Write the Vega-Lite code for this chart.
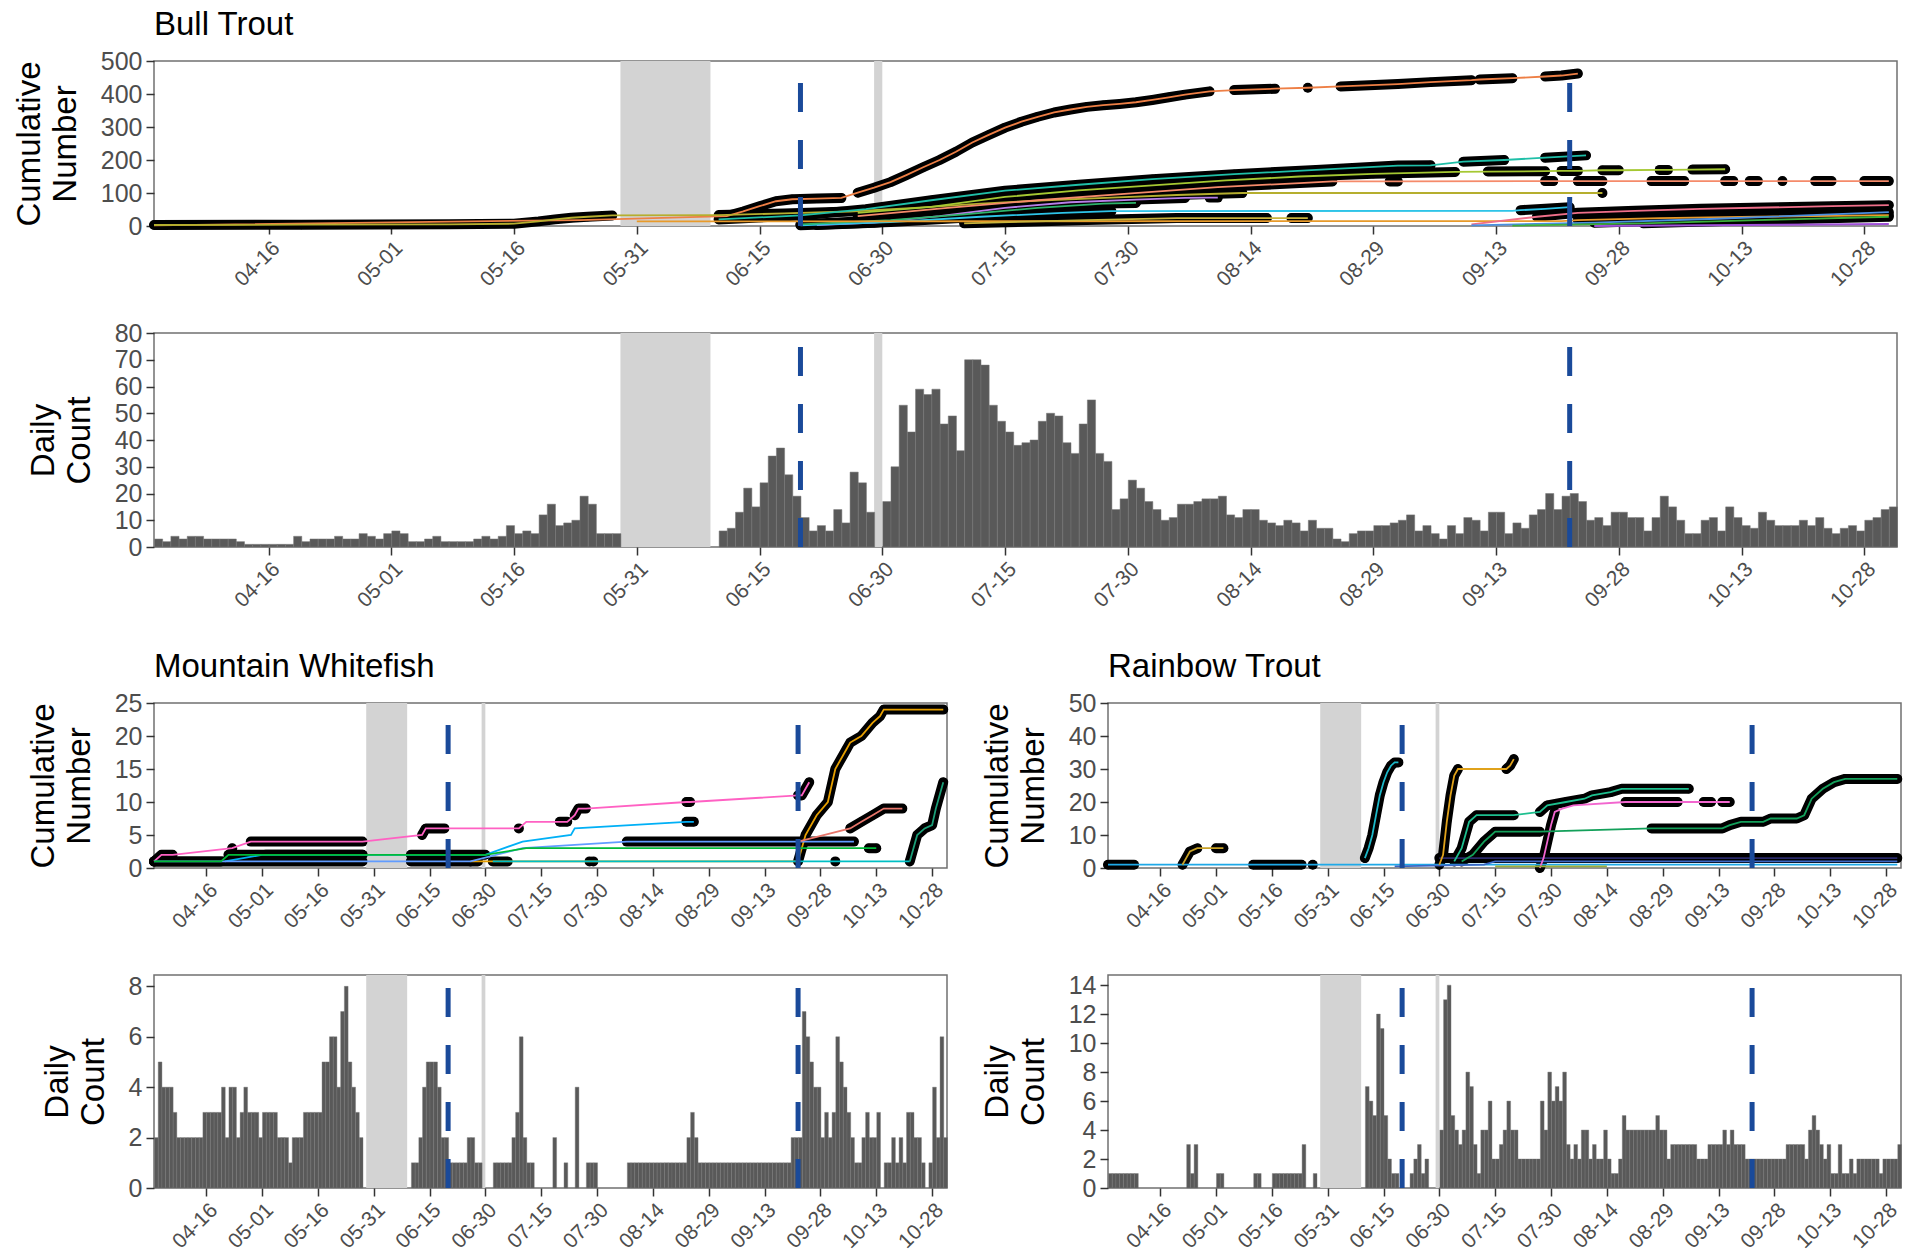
{
"$schema":"https://vega.github.io/schema/vega-lite/v6.json",
"padding":{"left":12,"top":8,"right":8,"bottom":3},
"background":"white",
"datasets":{
"gray":[{"a":"2023-05-29","b":"2023-06-09"},{"a":"2023-06-29","b":"2023-06-30"}],
"blue":[{"d":"2023-06-20"},{"d":"2023-09-22"}],
"daily":[
{"d":"2023-04-02","b":3,"m":2,"r":1},{"d":"2023-04-03","b":2,"m":5,"r":1},{"d":"2023-04-04","b":4,"m":4,"r":1},{"d":"2023-04-05","b":3,"m":4,"r":1},{"d":"2023-04-06","b":4,"m":4,"r":1},{"d":"2023-04-07","b":4,"m":3,"r":1},{"d":"2023-04-08","b":3,"m":2,"r":1},{"d":"2023-04-09","b":3,"m":2,"r":1},{"d":"2023-04-10","b":3,"m":2},{"d":"2023-04-11","b":3,"m":2},{"d":"2023-04-12","b":2,"m":2},{"d":"2023-04-13","b":1,"m":2},{"d":"2023-04-14","b":1,"m":2},{"d":"2023-04-15","b":1,"m":3},{"d":"2023-04-16","b":1,"m":3},{"d":"2023-04-17","b":1,"m":3},{"d":"2023-04-18","b":1,"m":3},{"d":"2023-04-19","b":4,"m":3},{"d":"2023-04-20","b":2,"m":4},{"d":"2023-04-21","b":3,"m":2},{"d":"2023-04-22","b":3,"m":4},{"d":"2023-04-23","b":3,"m":4,"r":3},{"d":"2023-04-24","b":4,"m":2,"r":1},{"d":"2023-04-25","b":3,"m":3,"r":3},{"d":"2023-04-26","b":3,"m":4},{"d":"2023-04-27","b":5,"m":3},{"d":"2023-04-28","b":4,"m":3},{"d":"2023-04-29","b":3,"m":3},{"d":"2023-04-30","b":5,"m":2},
{"d":"2023-05-01","b":6,"m":3,"r":1},{"d":"2023-05-02","b":5,"m":3,"r":1},{"d":"2023-05-03","b":2,"m":3},{"d":"2023-05-04","b":2,"m":3},{"d":"2023-05-05","b":3,"m":2},{"d":"2023-05-06","b":4,"m":2},{"d":"2023-05-07","b":2,"m":2},{"d":"2023-05-08","b":2,"m":1},{"d":"2023-05-09","b":2,"m":2},{"d":"2023-05-10","b":2,"m":2},{"d":"2023-05-11","b":3,"m":2,"r":1},{"d":"2023-05-12","b":4,"m":3,"r":1},{"d":"2023-05-13","b":3,"m":3},{"d":"2023-05-14","b":4,"m":3},{"d":"2023-05-15","b":8,"m":3},{"d":"2023-05-16","b":5,"m":3,"r":1},{"d":"2023-05-17","b":6,"m":5,"r":1},{"d":"2023-05-18","b":5,"m":5,"r":1},{"d":"2023-05-19","b":12,"m":6,"r":1},{"d":"2023-05-20","b":16,"m":6,"r":1},{"d":"2023-05-21","b":8,"m":4,"r":1},{"d":"2023-05-22","b":9,"m":7,"r":1},{"d":"2023-05-23","b":10,"m":8,"r":1},{"d":"2023-05-24","b":19,"m":5,"r":3},{"d":"2023-05-25","b":16,"m":4},{"d":"2023-05-26","b":5,"m":3},{"d":"2023-05-27","b":5,"m":2,"r":1},{"d":"2023-05-28","b":5},
{"d":"2023-06-10","b":6,"m":1,"r":7},{"d":"2023-06-11","b":7,"m":1,"r":6},{"d":"2023-06-12","b":13,"m":2,"r":5},{"d":"2023-06-13","b":22,"m":4,"r":12},{"d":"2023-06-14","b":15,"m":5,"r":11},{"d":"2023-06-15","b":24,"m":5,"r":5},{"d":"2023-06-16","b":34,"m":5,"r":2},{"d":"2023-06-17","b":37,"m":4,"r":1},{"d":"2023-06-18","b":27,"m":2,"r":1},{"d":"2023-06-19","b":19,"m":2},{"d":"2023-06-20","b":11,"m":1},{"d":"2023-06-21","b":6,"m":1},{"d":"2023-06-22","b":8,"m":1,"r":1},{"d":"2023-06-23","b":6,"m":1,"r":2},{"d":"2023-06-24","b":14,"m":1,"r":3},{"d":"2023-06-25","b":9,"m":2,"r":1},{"d":"2023-06-26","b":28,"m":2,"r":2},{"d":"2023-06-27","b":24,"m":1},{"d":"2023-06-28","b":13,"m":1},{"d":"2023-06-30","b":17,"r":4},
{"d":"2023-07-01","b":30,"r":13},{"d":"2023-07-02","b":53,"m":1,"r":14},{"d":"2023-07-03","b":43,"m":1,"r":5},{"d":"2023-07-04","b":59,"m":1,"r":4},{"d":"2023-07-05","b":57,"m":1,"r":3},{"d":"2023-07-06","b":59,"m":1,"r":4},{"d":"2023-07-07","b":46,"m":2,"r":8},{"d":"2023-07-08","b":49,"m":3,"r":7},{"d":"2023-07-09","b":36,"m":6,"r":3},{"d":"2023-07-10","b":70,"m":2,"r":1},{"d":"2023-07-11","b":70,"m":1,"r":4},{"d":"2023-07-12","b":68,"m":1,"r":4},{"d":"2023-07-13","b":53,"r":6},{"d":"2023-07-14","b":47,"r":2},{"d":"2023-07-15","b":43,"r":2},{"d":"2023-07-16","b":38,"r":3},{"d":"2023-07-17","b":39,"r":4},{"d":"2023-07-18","b":40,"m":2,"r":6},{"d":"2023-07-19","b":47,"r":4},{"d":"2023-07-20","b":50,"r":4},{"d":"2023-07-21","b":49,"m":1,"r":2},{"d":"2023-07-22","b":39,"r":2},{"d":"2023-07-23","b":35,"r":2},{"d":"2023-07-24","b":46,"m":4,"r":2},{"d":"2023-07-25","b":55,"r":2},{"d":"2023-07-26","b":35,"r":2},{"d":"2023-07-27","b":32,"m":1,"r":6},{"d":"2023-07-28","b":14,"m":1,"r":4},{"d":"2023-07-29","b":18,"m":1,"r":8},{"d":"2023-07-30","b":25,"r":6},{"d":"2023-07-31","b":22,"r":7},
{"d":"2023-08-01","b":17,"r":6},{"d":"2023-08-02","b":14,"r":8},{"d":"2023-08-03","b":10,"r":3},{"d":"2023-08-04","b":11,"r":2},{"d":"2023-08-05","b":16,"r":3},{"d":"2023-08-06","b":16,"r":2},{"d":"2023-08-07","b":17,"m":1,"r":4},{"d":"2023-08-08","b":18,"m":1,"r":4},{"d":"2023-08-09","b":18,"m":1,"r":2},{"d":"2023-08-10","b":19,"m":1,"r":3},{"d":"2023-08-11","b":12,"m":1,"r":2},{"d":"2023-08-12","b":11,"m":1,"r":2},{"d":"2023-08-13","b":14,"m":1,"r":4},{"d":"2023-08-14","b":14,"m":1,"r":2},{"d":"2023-08-15","b":10,"m":1,"r":1},{"d":"2023-08-16","b":9,"m":1,"r":1},{"d":"2023-08-17","b":8,"m":1,"r":2},{"d":"2023-08-18","b":10,"m":1,"r":5},{"d":"2023-08-19","b":9,"m":1,"r":4},{"d":"2023-08-20","b":6,"m":1,"r":4},{"d":"2023-08-21","b":10,"m":1,"r":4},{"d":"2023-08-22","b":7,"m":1,"r":4},{"d":"2023-08-23","b":7,"m":2,"r":4},{"d":"2023-08-24","b":3,"m":3,"r":4},{"d":"2023-08-25","b":2,"m":2,"r":4},{"d":"2023-08-26","b":5,"m":1,"r":4},{"d":"2023-08-27","b":6,"m":1,"r":5},{"d":"2023-08-28","b":6,"m":1,"r":4},{"d":"2023-08-29","b":8,"m":1,"r":4},{"d":"2023-08-30","b":8,"m":1,"r":2},{"d":"2023-08-31","b":9,"m":1,"r":3},
{"d":"2023-09-01","b":10,"m":1,"r":3},{"d":"2023-09-02","b":12,"m":1,"r":3},{"d":"2023-09-03","b":6,"m":1,"r":3},{"d":"2023-09-04","b":8,"m":1,"r":3},{"d":"2023-09-05","b":5,"m":1,"r":3},{"d":"2023-09-06","b":3,"m":1,"r":3},{"d":"2023-09-07","b":8,"m":1,"r":2},{"d":"2023-09-08","b":5,"m":1,"r":2},{"d":"2023-09-09","b":11,"m":1,"r":2},{"d":"2023-09-10","b":10,"m":1,"r":3},{"d":"2023-09-11","b":6,"m":1,"r":3},{"d":"2023-09-12","b":13,"m":1,"r":3},{"d":"2023-09-13","b":13,"m":1,"r":3},{"d":"2023-09-14","b":5,"m":1,"r":4},{"d":"2023-09-15","b":9,"m":1,"r":3},{"d":"2023-09-16","b":7,"m":1,"r":4},{"d":"2023-09-17","b":12,"m":1,"r":3},{"d":"2023-09-18","b":14,"m":1,"r":3},{"d":"2023-09-19","b":20,"m":1,"r":3},{"d":"2023-09-20","b":14,"m":2,"r":2},{"d":"2023-09-21","b":19,"m":2,"r":2},{"d":"2023-09-22","b":20,"m":2,"r":2},{"d":"2023-09-23","b":17,"m":7,"r":2},{"d":"2023-09-24","b":10,"m":6,"r":2},{"d":"2023-09-25","b":11,"m":5,"r":2},{"d":"2023-09-26","b":8,"m":4,"r":2},{"d":"2023-09-27","b":13,"m":4,"r":2},{"d":"2023-09-28","b":13,"m":2,"r":2},{"d":"2023-09-29","b":11,"m":3,"r":2},{"d":"2023-09-30","b":11,"m":2,"r":2},
{"d":"2023-10-01","b":6,"m":3,"r":3},{"d":"2023-10-02","b":11,"m":6,"r":3},{"d":"2023-10-03","b":19,"m":5,"r":3},{"d":"2023-10-04","b":15,"m":4,"r":3},{"d":"2023-10-05","b":10,"m":3,"r":3},{"d":"2023-10-06","b":5,"m":2,"r":2},{"d":"2023-10-07","b":5,"m":1,"r":4},{"d":"2023-10-08","b":10,"m":1,"r":5},{"d":"2023-10-09","b":11,"m":2,"r":4},{"d":"2023-10-10","b":6,"m":3,"r":3},{"d":"2023-10-11","b":15,"m":2,"r":2},{"d":"2023-10-12","b":11,"m":2,"r":3},{"d":"2023-10-13","b":8,"m":3,"r":1},{"d":"2023-10-14","b":7,"r":1},{"d":"2023-10-15","b":13,"m":1,"r":3},{"d":"2023-10-16","b":10,"m":1,"r":1},{"d":"2023-10-17","b":8,"m":2,"r":1},{"d":"2023-10-18","b":8,"m":1,"r":2},{"d":"2023-10-19","b":8,"m":2,"r":1},{"d":"2023-10-20","b":10,"m":1,"r":2},{"d":"2023-10-21","b":8,"m":3,"r":2},{"d":"2023-10-22","b":11,"m":3,"r":2},{"d":"2023-10-23","b":7,"m":2,"r":2},{"d":"2023-10-24","b":5,"m":2,"r":2},{"d":"2023-10-25","b":7,"m":1,"r":2},{"d":"2023-10-26","b":8,"r":1},{"d":"2023-10-27","b":6,"m":1,"r":2},{"d":"2023-10-28","b":10,"m":4,"r":2},{"d":"2023-10-29","b":11,"m":2,"r":2},{"d":"2023-10-30","b":14,"m":6,"r":2},{"d":"2023-10-31","b":15,"m":2,"r":3}
],
"bc":[
{"s":"b1","d":"2023-04-02","y":2},{"s":"b1","d":"2023-05-24","y":18},
{"s":"b1","d":"2023-06-11","y":30,"g":"1a"},{"s":"b1","d":"2023-06-13","y":44,"g":"1a"},{"s":"b1","d":"2023-06-15","y":60,"g":"1a"},{"s":"b1","d":"2023-06-17","y":75,"g":"1a"},{"s":"b1","d":"2023-06-19","y":81,"g":"1a"},{"s":"b1","d":"2023-06-22","y":83,"g":"1a"},{"s":"b1","d":"2023-06-25","y":85,"g":"1a"},
{"s":"b1","d":"2023-06-27","y":101,"g":"1b"},{"s":"b1","d":"2023-06-29","y":116,"g":"1b"},{"s":"b1","d":"2023-07-01","y":133,"g":"1b"},{"s":"b1","d":"2023-07-03","y":155,"g":"1b"},{"s":"b1","d":"2023-07-05","y":178,"g":"1b"},{"s":"b1","d":"2023-07-07","y":200,"g":"1b"},{"s":"b1","d":"2023-07-09","y":225,"g":"1b"},{"s":"b1","d":"2023-07-11","y":253,"g":"1b"},{"s":"b1","d":"2023-07-13","y":276,"g":"1b"},{"s":"b1","d":"2023-07-15","y":298,"g":"1b"},{"s":"b1","d":"2023-07-17","y":316,"g":"1b"},{"s":"b1","d":"2023-07-19","y":331,"g":"1b"},{"s":"b1","d":"2023-07-21","y":344,"g":"1b"},{"s":"b1","d":"2023-07-23","y":353,"g":"1b"},{"s":"b1","d":"2023-07-25","y":361,"g":"1b"},{"s":"b1","d":"2023-07-27","y":366,"g":"1b"},{"s":"b1","d":"2023-07-29","y":370,"g":"1b"},{"s":"b1","d":"2023-07-31","y":375,"g":"1b"},{"s":"b1","d":"2023-08-02","y":382,"g":"1b"},{"s":"b1","d":"2023-08-04","y":390,"g":"1b"},{"s":"b1","d":"2023-08-06","y":398,"g":"1b"},{"s":"b1","d":"2023-08-09","y":408,"g":"1b"},
{"s":"b1","d":"2023-08-12","y":412,"g":"1c"},{"s":"b1","d":"2023-08-17","y":416,"g":"1c"},{"s":"b1","d":"2023-08-21","y":419,"g":"1d"},
{"s":"b1","d":"2023-08-25","y":423,"g":"1f"},{"s":"b1","d":"2023-09-01","y":430,"g":"1f"},{"s":"b1","d":"2023-09-05","y":436,"g":"1f"},{"s":"b1","d":"2023-09-10","y":442,"g":"1f"},
{"s":"b1","d":"2023-09-11","y":444,"g":"1g"},{"s":"b1","d":"2023-09-15","y":448,"g":"1g"},
{"s":"b1","d":"2023-09-19","y":453,"g":"1h"},{"s":"b1","d":"2023-09-21","y":456,"g":"1h"},{"s":"b1","d":"2023-09-23","y":462,"g":"1h"},
{"s":"b2","d":"2023-04-02","y":3,"g":"2a"},{"s":"b2","d":"2023-04-20","y":4,"g":"2a"},{"s":"b2","d":"2023-05-08","y":5,"g":"2a"},{"s":"b2","d":"2023-05-16","y":7,"g":"2a"},{"s":"b2","d":"2023-05-19","y":14,"g":"2a"},{"s":"b2","d":"2023-05-21","y":20,"g":"2a"},{"s":"b2","d":"2023-05-23","y":25,"g":"2a"},{"s":"b2","d":"2023-05-25","y":28,"g":"2a"},{"s":"b2","d":"2023-05-28","y":32,"g":"2a"},
{"s":"b2","d":"2023-06-10","y":33,"g":"2b"},{"s":"b2","d":"2023-06-18","y":38,"g":"2b"},{"s":"b2","d":"2023-06-26","y":44,"g":"2b"},{"s":"b2","d":"2023-07-04","y":55,"g":"2b"},{"s":"b2","d":"2023-07-12","y":68,"g":"2b"},{"s":"b2","d":"2023-07-20","y":78,"g":"2b"},{"s":"b2","d":"2023-07-28","y":86,"g":"2b"},{"s":"b2","d":"2023-08-05","y":94,"g":"2b"},{"s":"b2","d":"2023-08-13","y":100,"g":"2b"},{"s":"b2","d":"2023-09-26","y":100,"g":"2c"},
{"s":"b3","d":"2023-06-10","y":20,"g":"3a"},{"s":"b3","d":"2023-06-20","y":32,"g":"3a"},{"s":"b3","d":"2023-06-28","y":51,"g":"3a"},{"s":"b3","d":"2023-07-06","y":78,"g":"3a"},{"s":"b3","d":"2023-07-15","y":107,"g":"3a"},{"s":"b3","d":"2023-07-24","y":125,"g":"3a"},{"s":"b3","d":"2023-08-02","y":142,"g":"3a"},{"s":"b3","d":"2023-08-12","y":157,"g":"3a"},{"s":"b3","d":"2023-08-22","y":170,"g":"3a"},{"s":"b3","d":"2023-09-01","y":183,"g":"3a"},{"s":"b3","d":"2023-09-05","y":184,"g":"3a"},
{"s":"b3","d":"2023-09-09","y":195,"g":"3b"},{"s":"b3","d":"2023-09-14","y":200,"g":"3b"},{"s":"b3","d":"2023-09-19","y":207,"g":"3c"},{"s":"b3","d":"2023-09-24","y":214,"g":"3c"},
{"s":"b4","d":"2023-06-27","y":40,"g":"4a"},{"s":"b4","d":"2023-07-06","y":58,"g":"4a"},{"s":"b4","d":"2023-07-15","y":88,"g":"4a"},{"s":"b4","d":"2023-07-24","y":108,"g":"4a"},{"s":"b4","d":"2023-08-02","y":123,"g":"4a"},{"s":"b4","d":"2023-08-11","y":138,"g":"4a"},{"s":"b4","d":"2023-08-20","y":150,"g":"4a"},{"s":"b4","d":"2023-08-29","y":158,"g":"4a"},{"s":"b4","d":"2023-09-08","y":164,"g":"4a"},
{"s":"b4","d":"2023-09-12","y":165,"g":"4b"},{"s":"b4","d":"2023-09-19","y":166,"g":"4b"},{"s":"b4","d":"2023-09-21","y":167,"g":"4c"},{"s":"b4","d":"2023-09-23","y":167,"g":"4c"},{"s":"b4","d":"2023-09-26","y":169,"g":"4d"},{"s":"b4","d":"2023-09-28","y":169,"g":"4d"},{"s":"b4","d":"2023-10-03","y":170,"g":"4e"},{"s":"b4","d":"2023-10-04","y":170,"g":"4e"},{"s":"b4","d":"2023-10-07","y":171,"g":"4f"},{"s":"b4","d":"2023-10-11","y":172,"g":"4f"},
{"s":"b5","d":"2023-06-27","y":30,"g":"5a"},{"s":"b5","d":"2023-07-08","y":55,"g":"5a"},{"s":"b5","d":"2023-07-19","y":78,"g":"5a"},{"s":"b5","d":"2023-07-30","y":98,"g":"5a"},{"s":"b5","d":"2023-08-10","y":118,"g":"5a"},{"s":"b5","d":"2023-08-20","y":130,"g":"5a"},{"s":"b5","d":"2023-08-24","y":135,"g":"5a"},
{"s":"b5","d":"2023-08-31","y":135,"g":"5b"},{"s":"b5","d":"2023-09-01","y":135,"g":"5b"},{"s":"b5","d":"2023-09-19","y":136,"g":"5c"},{"s":"b5","d":"2023-09-20","y":136,"g":"5c"},{"s":"b5","d":"2023-09-23","y":136,"g":"5d"},{"s":"b5","d":"2023-09-26","y":136,"g":"5d"},{"s":"b5","d":"2023-10-02","y":136,"g":"5e"},{"s":"b5","d":"2023-10-06","y":136,"g":"5e"},{"s":"b5","d":"2023-10-11","y":136,"g":"5f"},{"s":"b5","d":"2023-10-12","y":136,"g":"5f"},{"s":"b5","d":"2023-10-14","y":136,"g":"5g"},{"s":"b5","d":"2023-10-15","y":136,"g":"5g"},{"s":"b5","d":"2023-10-18","y":136,"g":"5h"},{"s":"b5","d":"2023-10-22","y":136,"g":"5i"},{"s":"b5","d":"2023-10-24","y":136,"g":"5i"},{"s":"b5","d":"2023-10-28","y":136,"g":"5j"},{"s":"b5","d":"2023-10-31","y":136,"g":"5j"},
{"s":"b6","d":"2023-06-22","y":3,"g":"6a"},{"s":"b6","d":"2023-06-29","y":10,"g":"6a"},{"s":"b6","d":"2023-07-07","y":30,"g":"6a"},{"s":"b6","d":"2023-07-15","y":55,"g":"6a"},{"s":"b6","d":"2023-07-23","y":72,"g":"6a"},{"s":"b6","d":"2023-07-31","y":80,"g":"6a"},{"s":"b6","d":"2023-08-06","y":85,"g":"6a"},{"s":"b6","d":"2023-08-09","y":86,"g":"6b"},{"s":"b6","d":"2023-08-10","y":86,"g":"6b"},
{"s":"b7","d":"2023-06-20","y":2,"g":"7a"},{"s":"b7","d":"2023-07-01","y":12,"g":"7a"},{"s":"b7","d":"2023-07-12","y":28,"g":"7a"},{"s":"b7","d":"2023-07-22","y":40,"g":"7a"},{"s":"b7","d":"2023-07-28","y":45,"g":"7a"},{"s":"b7","d":"2023-09-15","y":46},{"s":"b7","d":"2023-09-16","y":48,"g":"7b"},{"s":"b7","d":"2023-09-19","y":52,"g":"7b"},{"s":"b7","d":"2023-09-22","y":57,"g":"7b"},
{"s":"b8","d":"2023-06-20","y":5,"g":"8a"},{"s":"b8","d":"2023-07-01","y":18,"g":"8a"},{"s":"b8","d":"2023-07-10","y":35,"g":"8a"},{"s":"b8","d":"2023-07-19","y":55,"g":"8a"},{"s":"b8","d":"2023-07-27","y":68,"g":"8a"},{"s":"b8","d":"2023-07-31","y":70,"g":"8a"},
{"s":"b9","d":"2023-05-31","y":14},{"s":"b9","d":"2023-09-21","y":15},{"s":"b9","d":"2023-09-23","y":18,"g":"9a"},{"s":"b9","d":"2023-10-03","y":24,"g":"9a"},{"s":"b9","d":"2023-10-15","y":28,"g":"9a"},{"s":"b9","d":"2023-10-31","y":33,"g":"9a"},
{"s":"b10","d":"2023-07-10","y":8,"g":"10a"},{"s":"b10","d":"2023-07-25","y":18,"g":"10a"},{"s":"b10","d":"2023-08-05","y":24,"g":"10a"},{"s":"b10","d":"2023-08-16","y":24,"g":"10a"},{"s":"b10","d":"2023-08-19","y":24,"g":"10b"},{"s":"b10","d":"2023-08-21","y":24,"g":"10b"},
{"s":"b11","d":"2023-09-10","y":5},{"s":"b11","d":"2023-09-18","y":28,"g":"11a"},{"s":"b11","d":"2023-09-23","y":40,"g":"11a"},{"s":"b11","d":"2023-09-30","y":46,"g":"11a"},{"s":"b11","d":"2023-10-08","y":52,"g":"11a"},{"s":"b11","d":"2023-10-16","y":56,"g":"11a"},{"s":"b11","d":"2023-10-24","y":60,"g":"11a"},{"s":"b11","d":"2023-10-31","y":63,"g":"11a"},
{"s":"b12","d":"2023-09-10","y":2},{"s":"b12","d":"2023-09-25","y":10,"g":"12a"},{"s":"b12","d":"2023-10-10","y":22,"g":"12a"},{"s":"b12","d":"2023-10-31","y":42,"g":"12a"},
{"s":"b13","d":"2023-09-15","y":1},{"s":"b13","d":"2023-10-01","y":8,"g":"13a"},{"s":"b13","d":"2023-10-15","y":18,"g":"13a"},{"s":"b13","d":"2023-10-31","y":28,"g":"13a"},
{"s":"b14","d":"2023-09-25","y":0},{"s":"b14","d":"2023-10-31","y":6}
],
"mc":[
{"s":"m1","d":"2023-06-26","y":1,"g":"1a"},{"s":"m1","d":"2023-06-28","y":1,"g":"1a"},{"s":"m1","d":"2023-07-28","y":1,"g":"1b"},
{"s":"m1","d":"2023-09-22","y":1,"g":"1c"},{"s":"m1","d":"2023-09-24","y":5,"g":"1c"},{"s":"m1","d":"2023-09-27","y":8,"g":"1c"},{"s":"m1","d":"2023-09-30","y":10,"g":"1c"},{"s":"m1","d":"2023-10-02","y":15,"g":"1c"},{"s":"m1","d":"2023-10-05","y":18,"g":"1c"},{"s":"m1","d":"2023-10-06","y":19,"g":"1c"},{"s":"m1","d":"2023-10-09","y":20,"g":"1c"},{"s":"m1","d":"2023-10-12","y":22,"g":"1c"},{"s":"m1","d":"2023-10-14","y":23,"g":"1c"},{"s":"m1","d":"2023-10-15","y":24,"g":"1c"},{"s":"m1","d":"2023-10-31","y":24,"g":"1c"},
{"s":"m2","d":"2023-04-02","y":1,"g":"2a"},{"s":"m2","d":"2023-04-04","y":2,"g":"2a"},{"s":"m2","d":"2023-04-07","y":2,"g":"2a"},{"s":"m2","d":"2023-04-23","y":3,"g":"2b"},{"s":"m2","d":"2023-04-28","y":4,"g":"2c"},{"s":"m2","d":"2023-05-28","y":4,"g":"2c"},
{"s":"m2","d":"2023-06-13","y":5,"g":"2d"},{"s":"m2","d":"2023-06-14","y":6,"g":"2d"},{"s":"m2","d":"2023-06-19","y":6,"g":"2d"},{"s":"m2","d":"2023-07-09","y":6,"g":"2e"},{"s":"m2","d":"2023-07-11","y":7},{"s":"m2","d":"2023-07-20","y":7,"g":"2f"},{"s":"m2","d":"2023-07-22","y":7,"g":"2f"},
{"s":"m2","d":"2023-07-24","y":8,"g":"2g"},{"s":"m2","d":"2023-07-25","y":9,"g":"2g"},{"s":"m2","d":"2023-07-27","y":9,"g":"2g"},{"s":"m2","d":"2023-08-23","y":10,"g":"2h"},{"s":"m2","d":"2023-08-24","y":10,"g":"2h"},
{"s":"m2","d":"2023-09-22","y":11,"g":"2i"},{"s":"m2","d":"2023-09-23","y":11,"g":"2i"},{"s":"m2","d":"2023-09-24","y":12,"g":"2i"},{"s":"m2","d":"2023-09-25","y":13,"g":"2i"},
{"s":"m3","d":"2023-04-21","y":1},{"s":"m3","d":"2023-05-01","y":2},{"s":"m3","d":"2023-05-02","y":2,"g":"3a"},{"s":"m3","d":"2023-05-28","y":2,"g":"3a"},{"s":"m3","d":"2023-06-30","y":2},{"s":"m3","d":"2023-07-10","y":4},{"s":"m3","d":"2023-07-23","y":5},{"s":"m3","d":"2023-07-24","y":6},{"s":"m3","d":"2023-08-23","y":7,"g":"3b"},{"s":"m3","d":"2023-08-25","y":7,"g":"3b"},
{"s":"m4","d":"2023-04-02","y":1,"g":"4a"},{"s":"m4","d":"2023-05-28","y":1,"g":"4a"},{"s":"m4","d":"2023-06-10","y":1,"g":"4b"},{"s":"m4","d":"2023-06-26","y":1,"g":"4b"},{"s":"m4","d":"2023-07-10","y":3},{"s":"m4","d":"2023-08-07","y":4,"g":"4c"},{"s":"m4","d":"2023-10-07","y":4,"g":"4c"},
{"s":"m5","d":"2023-04-02","y":1,"g":"5a"},{"s":"m5","d":"2023-04-20","y":1,"g":"5a"},{"s":"m5","d":"2023-04-22","y":2,"g":"5b"},{"s":"m5","d":"2023-05-28","y":2,"g":"5b"},{"s":"m5","d":"2023-06-10","y":2,"g":"5c"},{"s":"m5","d":"2023-06-30","y":2,"g":"5c"},{"s":"m5","d":"2023-07-11","y":3},{"s":"m5","d":"2023-10-11","y":3,"g":"5d"},{"s":"m5","d":"2023-10-13","y":3,"g":"5d"},
{"s":"m6","d":"2023-07-02","y":1,"g":"6a"},{"s":"m6","d":"2023-07-06","y":1,"g":"6a"},{"s":"m6","d":"2023-07-29","y":1,"g":"6b"},{"s":"m6","d":"2023-10-02","y":1,"g":"6c"},{"s":"m6","d":"2023-10-22","y":1},
{"s":"m7","d":"2023-10-22","y":1,"g":"7a"},{"s":"m7","d":"2023-10-24","y":5,"g":"7a"},{"s":"m7","d":"2023-10-26","y":6,"g":"7a"},{"s":"m7","d":"2023-10-28","y":6.5,"g":"7a"},{"s":"m7","d":"2023-10-29","y":9,"g":"7a"},{"s":"m7","d":"2023-10-31","y":13,"g":"7a"},
{"s":"m8","d":"2023-09-22","y":4},{"s":"m8","d":"2023-10-06","y":6,"g":"8a"},{"s":"m8","d":"2023-10-09","y":7,"g":"8a"},{"s":"m8","d":"2023-10-12","y":8,"g":"8a"},{"s":"m8","d":"2023-10-15","y":9,"g":"8a"},{"s":"m8","d":"2023-10-20","y":9,"g":"8a"}
],
"rc":[
{"s":"r1","d":"2023-04-02","y":1,"g":"1a"},{"s":"r1","d":"2023-04-09","y":1,"g":"1a"},{"s":"r1","d":"2023-05-11","y":1,"g":"1b"},{"s":"r1","d":"2023-05-24","y":1,"g":"1b"},{"s":"r1","d":"2023-05-27","y":1,"g":"1c"},{"s":"r1","d":"2023-10-31","y":1},
{"s":"r8","d":"2023-06-18","y":0.5},{"s":"r8","d":"2023-07-12","y":1},{"s":"r8","d":"2023-07-15","y":2},{"s":"r8","d":"2023-10-31","y":2},
{"s":"r11","d":"2023-06-30","y":3,"g":"11a"},{"s":"r11","d":"2023-10-31","y":3,"g":"11a"},
{"s":"r2","d":"2023-04-22","y":1,"g":"2a"},{"s":"r2","d":"2023-04-23","y":3,"g":"2a"},{"s":"r2","d":"2023-04-24","y":5,"g":"2a"},{"s":"r2","d":"2023-04-26","y":6,"g":"2a"},{"s":"r2","d":"2023-05-01","y":6,"g":"2b"},{"s":"r2","d":"2023-05-03","y":6,"g":"2b"},
{"s":"r3","d":"2023-06-30","y":1,"g":"3a"},{"s":"r3","d":"2023-07-01","y":4,"g":"3a"},{"s":"r3","d":"2023-07-02","y":14,"g":"3a"},{"s":"r3","d":"2023-07-03","y":22,"g":"3a"},{"s":"r3","d":"2023-07-04","y":28,"g":"3a"},{"s":"r3","d":"2023-07-05","y":30,"g":"3a"},{"s":"r3","d":"2023-07-18","y":30,"g":"3b"},{"s":"r3","d":"2023-07-19","y":31,"g":"3b"},{"s":"r3","d":"2023-07-20","y":33,"g":"3b"},
{"s":"r4","d":"2023-06-10","y":3,"g":"4a"},{"s":"r4","d":"2023-06-11","y":6,"g":"4a"},{"s":"r4","d":"2023-06-12","y":10,"g":"4a"},{"s":"r4","d":"2023-06-13","y":16,"g":"4a"},{"s":"r4","d":"2023-06-14","y":22,"g":"4a"},{"s":"r4","d":"2023-06-15","y":26,"g":"4a"},{"s":"r4","d":"2023-06-16","y":29,"g":"4a"},{"s":"r4","d":"2023-06-17","y":31,"g":"4a"},{"s":"r4","d":"2023-06-18","y":32,"g":"4a"},{"s":"r4","d":"2023-06-19","y":32,"g":"4a"},
{"s":"r5","d":"2023-07-04","y":2,"g":"5a"},{"s":"r5","d":"2023-07-06","y":6,"g":"5a"},{"s":"r5","d":"2023-07-07","y":10,"g":"5a"},{"s":"r5","d":"2023-07-08","y":14,"g":"5a"},{"s":"r5","d":"2023-07-10","y":16,"g":"5a"},{"s":"r5","d":"2023-07-20","y":16,"g":"5a"},
{"s":"r5","d":"2023-07-27","y":17,"g":"5b"},{"s":"r5","d":"2023-07-29","y":19,"g":"5b"},{"s":"r5","d":"2023-08-03","y":20,"g":"5b"},{"s":"r5","d":"2023-08-08","y":21,"g":"5b"},{"s":"r5","d":"2023-08-10","y":22,"g":"5b"},{"s":"r5","d":"2023-08-15","y":23,"g":"5b"},{"s":"r5","d":"2023-08-18","y":24,"g":"5b"},{"s":"r5","d":"2023-09-05","y":24,"g":"5b"},
{"s":"r6","d":"2023-07-27","y":0,"g":"6a"},{"s":"r6","d":"2023-07-28","y":3,"g":"6a"},{"s":"r6","d":"2023-07-29","y":8,"g":"6a"},{"s":"r6","d":"2023-07-30","y":13,"g":"6a"},{"s":"r6","d":"2023-07-31","y":17,"g":"6a"},{"s":"r6","d":"2023-08-02","y":18},{"s":"r6","d":"2023-08-05","y":19},
{"s":"r6","d":"2023-08-19","y":20,"g":"6b"},{"s":"r6","d":"2023-09-02","y":20,"g":"6b"},{"s":"r6","d":"2023-09-09","y":20,"g":"6c"},{"s":"r6","d":"2023-09-11","y":20,"g":"6c"},{"s":"r6","d":"2023-09-14","y":20,"g":"6d"},{"s":"r6","d":"2023-09-16","y":20,"g":"6d"},
{"s":"r7","d":"2023-07-06","y":2,"g":"7a"},{"s":"r7","d":"2023-07-09","y":4,"g":"7a"},{"s":"r7","d":"2023-07-12","y":8,"g":"7a"},{"s":"r7","d":"2023-07-14","y":10,"g":"7a"},{"s":"r7","d":"2023-07-15","y":11,"g":"7a"},{"s":"r7","d":"2023-07-27","y":11,"g":"7a"},
{"s":"r7","d":"2023-08-26","y":12,"g":"7b"},{"s":"r7","d":"2023-09-14","y":12,"g":"7b"},{"s":"r7","d":"2023-09-16","y":13,"g":"7b"},{"s":"r7","d":"2023-09-19","y":14,"g":"7b"},{"s":"r7","d":"2023-09-25","y":14,"g":"7b"},{"s":"r7","d":"2023-09-27","y":15,"g":"7b"},{"s":"r7","d":"2023-10-04","y":15,"g":"7b"},{"s":"r7","d":"2023-10-06","y":16,"g":"7b"},{"s":"r7","d":"2023-10-08","y":21,"g":"7b"},{"s":"r7","d":"2023-10-11","y":24,"g":"7b"},{"s":"r7","d":"2023-10-14","y":26,"g":"7b"},{"s":"r7","d":"2023-10-17","y":27,"g":"7b"},{"s":"r7","d":"2023-10-31","y":27,"g":"7b"},
{"s":"r9","d":"2023-07-15","y":0.5},{"s":"r9","d":"2023-08-14","y":0.5}
]
},
"vconcat":[
{"spacing":29,"vconcat":[
{"width":1743,"height":165,"title":{"text":"Bull Trout"},
"layer":[
{"data":{"name":"gray"},"mark":{"type":"rect","color":"#D3D3D3"},
"encoding":{"x":{"field":"a","type":"temporal","title":null,"scale":{"type":"utc","domain":[1680393600000,1698796800000],"nice":false},"axis":{"format":"%m-%d","values":[1681603200000,1682899200000,1684195200000,1685491200000,1686787200000,1688083200000,1689379200000,1690675200000,1691971200000,1693267200000,1694563200000,1695859200000,1697155200000,1698451200000]}},"x2":{"field":"b"}}},
{"data":{"name":"bc"},"transform":[{"filter":"isValid(datum.g)"}],"mark":{"type":"line","color":"#000000","strokeWidth":10,"strokeCap":"round","strokeJoin":"round"},
"encoding":{"x":{"field":"d","type":"temporal","title":null},"y":{"field":"y","type":"quantitative","title":["Cumulative","Number"],"scale":{"domain":[0,500],"nice":false},"axis":{"values":[0,100,200,300,400,500],"tickCount":6}},"detail":{"field":"g"}}},
{"data":{"name":"bc"},"transform":[{"filter":"isValid(datum.g)"}],"mark":{"type":"circle","color":"#000000","size":80,"opacity":1},
"encoding":{"x":{"field":"d","type":"temporal","title":null},"y":{"field":"y","type":"quantitative","title":["Cumulative","Number"],"scale":{"domain":[0,500],"nice":false},"axis":{"values":[0,100,200,300,400,500],"tickCount":6}}}},
{"data":{"name":"bc"},"mark":{"type":"line","strokeWidth":1.8},
"encoding":{"x":{"field":"d","type":"temporal","title":null},"y":{"field":"y","type":"quantitative","title":["Cumulative","Number"],"scale":{"domain":[0,500],"nice":false},"axis":{"values":[0,100,200,300,400,500],"tickCount":6}},"color":{"field":"s","type":"nominal","legend":null,"scale":{"domain":["b1","b2","b3","b4","b5","b6","b7","b8","b9","b10","b11","b12","b13","b14"],"range":["#EE7F45","#B5AE2E","#1FBFA8","#A5C832","#F58A6A","#B87FE8","#2EC4E8","#2DB36B","#E89A2A","#C8B43C","#EF6F8A","#4A8FE0","#3BB03B","#A050D8"]}}}},
{"data":{"name":"blue"},"mark":{"type":"rule","color":"#1A4A9A","strokeWidth":5,"strokeDash":[29,28],"strokeDashOffset":35},
"encoding":{"x":{"field":"d","type":"temporal","title":null}}}
]},
{"width":1743,"height":214,
"layer":[
{"data":{"name":"gray"},"mark":{"type":"rect","color":"#D3D3D3"},
"encoding":{"x":{"field":"a","type":"temporal","title":null,"scale":{"type":"utc","domain":[1680393600000,1698796800000],"nice":false},"axis":{"format":"%m-%d","values":[1681603200000,1682899200000,1684195200000,1685491200000,1686787200000,1688083200000,1689379200000,1690675200000,1691971200000,1693267200000,1694563200000,1695859200000,1697155200000,1698451200000]}},"x2":{"field":"b"}}},
{"data":{"name":"daily"},"mark":{"type":"bar","color":"#595959","binSpacing":0,"timeUnitBandSize":1,"stroke":"#777777","strokeWidth":0.5},
"encoding":{"x":{"field":"d","type":"temporal","timeUnit":"utcyearmonthdate","title":null},"y":{"field":"b","type":"quantitative","title":["Daily","Count"],"scale":{"domain":[0,80],"nice":false},"axis":{"values":[0,10,20,30,40,50,60,70,80],"tickCount":9}}}},
{"data":{"name":"blue"},"mark":{"type":"rule","color":"#1A4A9A","strokeWidth":5,"strokeDash":[29,28],"strokeDashOffset":43},
"encoding":{"x":{"field":"d","type":"temporal","title":null}}}
]}
]},
{"spacing":30,"resolve":{"scale":{"color":"independent"}},"hconcat":[
{"spacing":38,"vconcat":[
{"width":793,"height":165,"title":{"text":"Mountain Whitefish"},
"layer":[
{"data":{"name":"gray"},"mark":{"type":"rect","color":"#D3D3D3"},
"encoding":{"x":{"field":"a","type":"temporal","title":null,"scale":{"type":"utc","domain":[1680393600000,1698796800000],"nice":false},"axis":{"format":"%m-%d","values":[1681603200000,1682899200000,1684195200000,1685491200000,1686787200000,1688083200000,1689379200000,1690675200000,1691971200000,1693267200000,1694563200000,1695859200000,1697155200000,1698451200000]}},"x2":{"field":"b"}}},
{"data":{"name":"mc"},"transform":[{"filter":"isValid(datum.g)"}],"mark":{"type":"line","color":"#000000","strokeWidth":10,"strokeCap":"round","strokeJoin":"round"},
"encoding":{"x":{"field":"d","type":"temporal","title":null},"y":{"field":"y","type":"quantitative","title":["Cumulative","Number"],"scale":{"domain":[0,25],"nice":false},"axis":{"values":[0,5,10,15,20,25],"tickCount":6}},"detail":{"field":"g"}}},
{"data":{"name":"mc"},"transform":[{"filter":"isValid(datum.g)"}],"mark":{"type":"circle","color":"#000000","size":80,"opacity":1},
"encoding":{"x":{"field":"d","type":"temporal","title":null},"y":{"field":"y","type":"quantitative","title":["Cumulative","Number"],"scale":{"domain":[0,25],"nice":false},"axis":{"values":[0,5,10,15,20,25],"tickCount":6}}}},
{"data":{"name":"mc"},"mark":{"type":"line","strokeWidth":1.8},
"encoding":{"x":{"field":"d","type":"temporal","title":null},"y":{"field":"y","type":"quantitative","title":["Cumulative","Number"],"scale":{"domain":[0,25],"nice":false},"axis":{"values":[0,5,10,15,20,25],"tickCount":6}},"color":{"field":"s","type":"nominal","legend":null,"scale":{"domain":["m1","m2","m3","m4","m5","m6","m7","m8"],"range":["#E69F00","#FF61C3","#00B0F6","#619CFF","#00BA38","#00BFC4","#1B9E77","#E8766B"]}}}},
{"data":{"name":"blue"},"mark":{"type":"rule","color":"#1A4A9A","strokeWidth":5,"strokeDash":[29,28],"strokeDashOffset":35},
"encoding":{"x":{"field":"d","type":"temporal","title":null}}}
]},
{"width":793,"height":213,
"layer":[
{"data":{"name":"gray"},"mark":{"type":"rect","color":"#D3D3D3"},
"encoding":{"x":{"field":"a","type":"temporal","title":null,"scale":{"type":"utc","domain":[1680393600000,1698796800000],"nice":false},"axis":{"format":"%m-%d","values":[1681603200000,1682899200000,1684195200000,1685491200000,1686787200000,1688083200000,1689379200000,1690675200000,1691971200000,1693267200000,1694563200000,1695859200000,1697155200000,1698451200000]}},"x2":{"field":"b"}}},
{"data":{"name":"daily"},"mark":{"type":"bar","color":"#595959","binSpacing":0,"timeUnitBandSize":1,"stroke":"#777777","strokeWidth":0.4},
"encoding":{"x":{"field":"d","type":"temporal","timeUnit":"utcyearmonthdate","title":null},"y":{"field":"m","type":"quantitative","title":["Daily","Count"],"scale":{"domain":[0,8.45],"nice":false},"axis":{"values":[0,2,4,6,8],"tickCount":5}}}},
{"data":{"name":"blue"},"mark":{"type":"rule","color":"#1A4A9A","strokeWidth":5,"strokeDash":[29,28],"strokeDashOffset":44},
"encoding":{"x":{"field":"d","type":"temporal","title":null}}}
]}
]},
{"spacing":38,"vconcat":[
{"width":793,"height":165,"title":{"text":"Rainbow Trout"},
"layer":[
{"data":{"name":"gray"},"mark":{"type":"rect","color":"#D3D3D3"},
"encoding":{"x":{"field":"a","type":"temporal","title":null,"scale":{"type":"utc","domain":[1680393600000,1698796800000],"nice":false},"axis":{"format":"%m-%d","values":[1681603200000,1682899200000,1684195200000,1685491200000,1686787200000,1688083200000,1689379200000,1690675200000,1691971200000,1693267200000,1694563200000,1695859200000,1697155200000,1698451200000]}},"x2":{"field":"b"}}},
{"data":{"name":"rc"},"transform":[{"filter":"isValid(datum.g)"}],"mark":{"type":"line","color":"#000000","strokeWidth":10,"strokeCap":"round","strokeJoin":"round"},
"encoding":{"x":{"field":"d","type":"temporal","title":null},"y":{"field":"y","type":"quantitative","title":["Cumulative","Number"],"scale":{"domain":[0,50],"nice":false},"axis":{"values":[0,10,20,30,40,50],"tickCount":6}},"detail":{"field":"g"}}},
{"data":{"name":"rc"},"transform":[{"filter":"isValid(datum.g)"}],"mark":{"type":"circle","color":"#000000","size":80,"opacity":1},
"encoding":{"x":{"field":"d","type":"temporal","title":null},"y":{"field":"y","type":"quantitative","title":["Cumulative","Number"],"scale":{"domain":[0,50],"nice":false},"axis":{"values":[0,10,20,30,40,50],"tickCount":6}}}},
{"data":{"name":"rc"},"mark":{"type":"line","strokeWidth":1.8},
"encoding":{"x":{"field":"d","type":"temporal","title":null},"y":{"field":"y","type":"quantitative","title":["Cumulative","Number"],"scale":{"domain":[0,50],"nice":false},"axis":{"values":[0,10,20,30,40,50],"tickCount":6}},"color":{"field":"s","type":"nominal","legend":null,"scale":{"domain":["r1","r2","r3","r4","r5","r6","r7","r8","r9","r11"],"range":["#1FA9E8","#C9A227","#E0A21B","#1CB8C8","#1DBF8E","#F266CF","#13A05A","#3A66C4","#9AAE3A","#2A2A6A"]}}}},
{"data":{"name":"blue"},"mark":{"type":"rule","color":"#1A4A9A","strokeWidth":5,"strokeDash":[29,28],"strokeDashOffset":35},
"encoding":{"x":{"field":"d","type":"temporal","title":null}}}
]},
{"width":793,"height":213,
"layer":[
{"data":{"name":"gray"},"mark":{"type":"rect","color":"#D3D3D3"},
"encoding":{"x":{"field":"a","type":"temporal","title":null,"scale":{"type":"utc","domain":[1680393600000,1698796800000],"nice":false},"axis":{"format":"%m-%d","values":[1681603200000,1682899200000,1684195200000,1685491200000,1686787200000,1688083200000,1689379200000,1690675200000,1691971200000,1693267200000,1694563200000,1695859200000,1697155200000,1698451200000]}},"x2":{"field":"b"}}},
{"data":{"name":"daily"},"mark":{"type":"bar","color":"#595959","binSpacing":0,"timeUnitBandSize":1,"stroke":"#777777","strokeWidth":0.4},
"encoding":{"x":{"field":"d","type":"temporal","timeUnit":"utcyearmonthdate","title":null},"y":{"field":"r","type":"quantitative","title":["Daily","Count"],"scale":{"domain":[0,14.7],"nice":false},"axis":{"values":[0,2,4,6,8,10,12,14],"tickCount":8}}}},
{"data":{"name":"blue"},"mark":{"type":"rule","color":"#1A4A9A","strokeWidth":5,"strokeDash":[29,28],"strokeDashOffset":44},
"encoding":{"x":{"field":"d","type":"temporal","title":null}}}
]}
]}
]}
],
"spacing":38,
"resolve":{"scale":{"color":"independent"}},
"config":{
"font":"Liberation Sans",
"view":{"stroke":"#707070","strokeWidth":1.5},
"axis":{"grid":false,"domain":false,"tickColor":"#333333","tickSize":8,"tickWidth":1.5,"labelColor":"#4D4D4D","labelFont":"Liberation Sans","titleFont":"Liberation Sans","titleColor":"#000000","titleFontWeight":"normal"},
"axisX":{"labelFontSize":21,"labelAngle":-45,"labelOverlap":false,"labelFlush":false,"labelPadding":3},
"axisY":{"labelFontSize":25,"titleFontSize":33,"titlePadding":18,"titleLineHeight":36,"labelPadding":4,"labelOverlap":false},
"title":{"fontSize":33,"fontWeight":"normal","anchor":"start","frame":"group","color":"#000000","offset":7,"font":"Liberation Sans"}
}
}
